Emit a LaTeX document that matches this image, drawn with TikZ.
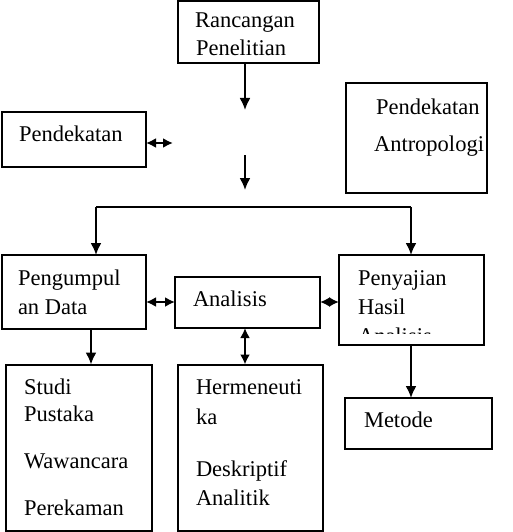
\documentclass[tikz,border=0pt]{standalone}
\usepackage{fontspec}
\setmainfont{Liberation Serif}
\usetikzlibrary{arrows.meta}

\begin{document}
\begin{tikzpicture}[x=1pt, y=-1pt, line width=2pt,
		box/.style={draw, inner sep=0pt, outer sep=0pt},
		txt/.style={anchor=base west, inner sep=0pt, font=\fontsize{22.5}{27}\selectfont},
		arr/.style={-{Latex[length=12pt,width=11pt]}},
		darr/.style={{Latex[length=10pt,width=10pt]}-{Latex[length=10pt,width=10pt]}}]
		\useasboundingbox (0,0) rectangle (512,532);
		% kotak
		\node[box, minimum width=141pt, minimum height=62pt] (ranc) at (248.5,32) {};
		\node[box, minimum width=144pt, minimum height=55pt] (pdkA) at (74,139.5) {};
		\node[box, minimum width=141pt, minimum height=110pt] (pdkB) at (416.5,138) {};
		\node[box, minimum width=144pt, minimum height=74pt] (kumpul) at (74,292) {};
		\node[box, minimum width=145pt, minimum height=51pt] (anls) at (247.5,302.5) {};
		\node[box, minimum width=145pt, minimum height=90pt] (saji) at (411.5,300) {};
		\node[box, minimum width=146pt, minimum height=166pt] (studi) at (79,447.5) {};
		\node[box, minimum width=145pt, minimum height=166pt] (herme) at (250.5,447.5) {};
		\node[box, minimum width=147pt, minimum height=51pt] (metode) at (418.5,423.5) {};
		% teks
		\node[txt] (t1) at (194,28) {Rancangan};
		\node[txt] (t2) at (195,56) {Penelitian};
		\node[txt] (t3) at (18,141) {Pendekatan};
		\node[txt] (t4) at (375,114) {Pendekatan};
		\node[txt] (t5) at (373,151) {Antropologi};
		\node[txt] (t6) at (17,285) {Pengumpul};
		\node[txt] (t7) at (17,314) {an Data};
		\node[txt] (t8) at (192,306) {Analisis};
		\node[txt] (t9) at (357,285) {Penyajian};
		\node[txt] (t10) at (357,314) {Hasil};
		\begin{scope}
			\clip (saji.north west) rectangle ([yshift=12pt]saji.south east);
			\node[txt] (t11) at (357,343) {Analisis};
		\end{scope}
		\node[txt] (t12) at (23,394) {Studi};
		\node[txt] (t13) at (23,421) {Pustaka};
		\node[txt] (t14) at (23,468) {Wawancara};
		\node[txt] (t15) at (23,515) {Perekaman};
		\node[txt] (t16) at (195,394) {Hermeneuti};
		\node[txt] (t17) at (195,424) {ka};
		\node[txt] (t18) at (195,476) {Deskriptif};
		\node[txt] (t19) at (195,505) {Analitik};
		\node[txt] (t20) at (363,427) {Metode};
		% titik bantu
		\coordinate (a1) at (245,110);
		\coordinate (a2) at (245,155);
		\coordinate (a3) at (245,190);
		\coordinate (pA) at (173,143);
		\coordinate (hL) at (96,207);
		\coordinate (hR) at (411,207);
		% panah
		\draw[arr] (ranc.south -| a1) -- (a1);
		\draw[arr] (a2) -- (a3);
		\draw[darr] (pdkA.east |- pA) -- (pA);
		\draw (hL) -- (hR);
		\draw[arr] (hL) -- (hL |- kumpul.north);
		\draw[arr] (hR) -- (hR |- saji.north);
		\draw[darr] (kumpul.east |- 0,302) -- (anls.west |- 0,302);
		\draw[darr] (anls.east |- 0,302) -- (saji.west |- 0,302);
		\draw[arr] (kumpul.south -| 91,0) -- (studi.north -| 91,0);
		\draw[darr] (anls.south -| 245,0) -- (herme.north -| 245,0);
		\draw[arr] (saji.south -| 411,0) -- (metode.north -| 411,0);
	\end{tikzpicture}
\end{document}
